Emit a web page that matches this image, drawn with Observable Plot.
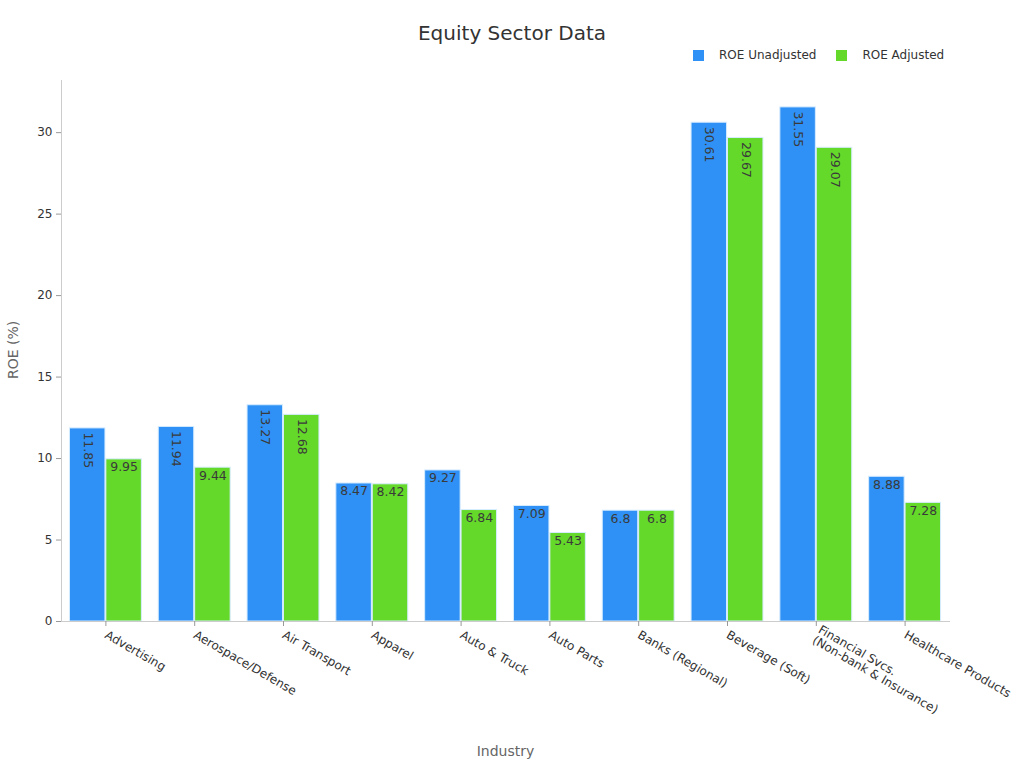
<!DOCTYPE html>
<html><head><meta charset="utf-8">
<script src="https://cdn.jsdelivr.net/npm/d3@7"></script>
<script src="https://cdn.jsdelivr.net/npm/@observablehq/plot@0.6"></script>
<style>
body{margin:0;background:#fff;font-family:"DejaVu Sans",sans-serif;}
#wrap{position:relative;width:1024px;height:768px;}
#title{position:absolute;top:21px;left:0;width:1024px;text-align:center;font-size:20px;line-height:24px;color:#333;}
#legend{position:absolute;top:48px;left:693px;font-size:12px;line-height:14px;color:#333;display:flex;align-items:center;}
.item{display:flex;align-items:center;margin-right:20px;}
.sw{width:11px;height:11px;margin-right:15px;}
#chart{position:absolute;top:0;left:0;}
</style></head>
<body>
<div id="wrap">
  <div id="chart"></div>
  <div id="title">Equity Sector Data</div>
  <div id="legend"></div>
</div>
<script>
const industries = ["Advertising","Aerospace/Defense","Air Transport","Apparel","Auto & Truck","Auto Parts","Banks (Regional)","Beverage (Soft)","Financial Svcs. (Non-bank & Insurance)","Healthcare Products"];
const tickLabels = ["Advertising","Aerospace/Defense","Air Transport","Apparel","Auto & Truck","Auto Parts","Banks (Regional)","Beverage (Soft)","Financial Svcs.\n(Non-bank & Insurance)","Healthcare Products"];
const seriesNames = ["ROE Unadjusted","ROE Adjusted"];
const seriesColors = ["#2f91f5","#65d92a"];
const roeUnadjusted = [11.85,11.94,13.27,8.47,9.27,7.09,6.8,30.61,31.55,8.88];
const roeAdjusted = [9.95,9.44,12.68,8.42,6.84,5.43,6.8,29.67,29.07,7.28];
const yTicks = [0,5,10,15,20,25,30];
const yTitle = "ROE (%)";
const xTitle = "Industry";

const data = [];
industries.forEach((ind,i)=>{
  data.push({industry: ind, series: seriesNames[0], value: roeUnadjusted[i]});
  data.push({industry: ind, series: seriesNames[1], value: roeAdjusted[i]});
});
const labelMap = new Map(industries.map((d,i)=>[d, tickLabels[i]]));
const fmt = v => String(v);
const isLong = d => fmt(d.value).length >= 5;

const legend = document.getElementById("legend");
seriesNames.forEach((s,i)=>{
  const it = document.createElement("div"); it.className="item";
  const sw = document.createElement("div"); sw.className="sw"; sw.style.background = seriesColors[i];
  const tx = document.createElement("span"); tx.textContent = s;
  it.appendChild(sw); it.appendChild(tx); legend.appendChild(it);
});

const chart = Plot.plot({
  width: 1024,
  height: 768,
  marginTop: 80,
  marginLeft: 61,
  marginRight: 75,
  marginBottom: 147,
  style: {fontFamily: "DejaVu Sans, sans-serif", fontSize: "12px", color: "#333", background: "transparent"},
  fx: {domain: industries, paddingInner: 0, paddingOuter: 0, round: false, label: null},
  x: {domain: seriesNames, paddingInner: 0.025, paddingOuter: 0.232, round: false, axis: null},
  y: {domain: [0, 33.2], label: null},
  color: {domain: seriesNames, range: seriesColors},
  marks: [
    Plot.barY(data, {fx: "industry", x: "series", y: "value", fill: "series", stroke: "#d6ecff", strokeWidth: 1}),
    Plot.text(data.filter(d=>!isLong(d)), {fx: "industry", x: "series", y: "value", text: d=>fmt(d.value), lineAnchor: "top", dy: 3, fill: "#3a3a3a", fontSize: 12.5}),
    Plot.text(data.filter(isLong), {fx: "industry", x: "series", y: "value", text: d=>fmt(d.value), rotate: 90, textAnchor: "start", lineAnchor: "middle", dy: 4, fill: "#3a3a3a", fontSize: 12.5}),
    Plot.frame({anchor: "left", facet: "super", stroke: "#cccccc"}),
    Plot.frame({anchor: "bottom", facet: "super", stroke: "#cccccc"}),
    Plot.axisY({ticks: yTicks, tickSize: 5, stroke: "#999", fill: "#333", fontSize: 12, label: null}),
    Plot.axisFx({anchor: "bottom", tickSize: 5, tickRotate: 30, textAnchor: "start", tickFormat: d=>labelMap.get(d), stroke: "#999", fill: "#333", fontSize: 12, label: null}),
    Plot.text([yTitle], {facet: "super", frameAnchor: "left", dx: -48, dy: 28, rotate: -90, fill: "#666", fontSize: 14}),
    Plot.text([xTitle], {facet: "super", frameAnchor: "bottom", dy: 134, fill: "#666", fontSize: 14})
  ]
});
document.getElementById("chart").appendChild(chart);
</script>
</body></html>
